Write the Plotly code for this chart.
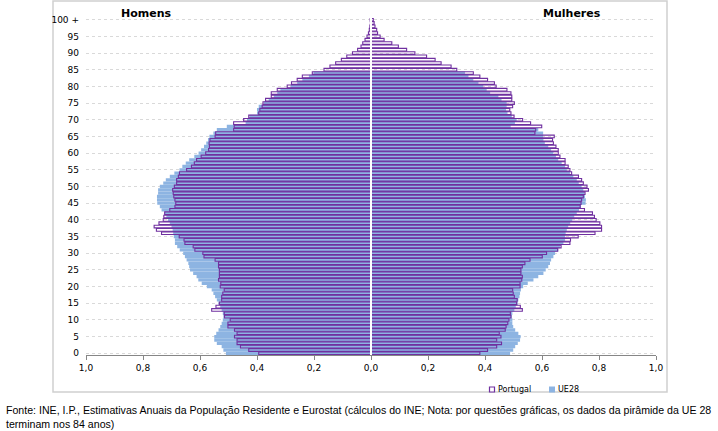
import plotly.graph_objects as go

ages = list(range(0, 101))
age_tick_vals = list(range(0, 101, 5))
age_tick_text = [str(a) for a in range(0, 100, 5)] + ["100 +"]
x_tick_vals = [-1.0, -0.8, -0.6, -0.4, -0.2, 0.0, 0.2, 0.4, 0.6, 0.8, 1.0]
x_tick_text = ["1,0", "0,8", "0,6", "0,4", "0,2", "0,0", "0,2", "0,4", "0,6", "0,8", "1,0"]

# Portugal, Homens (% of total population), ages 0..100+
pt_homens = [0.394, 0.429, 0.458, 0.470, 0.470, 0.479, 0.470, 0.479, 0.502, 0.502,
             0.494, 0.514, 0.515, 0.559, 0.544, 0.532, 0.524, 0.524, 0.520, 0.515,
             0.529, 0.527, 0.535, 0.532, 0.532, 0.532, 0.535, 0.535, 0.547, 0.586,
             0.590, 0.618, 0.624, 0.653, 0.656, 0.673, 0.735, 0.753, 0.761, 0.744,
             0.729, 0.727, 0.724, 0.706, 0.688, 0.685, 0.688, 0.692, 0.694, 0.696,
             0.690, 0.682, 0.682, 0.676, 0.672, 0.647, 0.630, 0.620, 0.612, 0.596,
             0.580, 0.570, 0.567, 0.568, 0.565, 0.547, 0.545, 0.482, 0.480, 0.482,
             0.447, 0.429, 0.394, 0.390, 0.382, 0.379, 0.370, 0.350, 0.350, 0.329,
             0.294, 0.279, 0.259, 0.241, 0.206, 0.165, 0.144, 0.124, 0.104, 0.085,
             0.065, 0.047, 0.035, 0.029, 0.021, 0.014, 0.009, 0.006, 0.004, 0.002,
             0.003]
# Portugal, Mulheres
pt_mulheres = [0.382, 0.409, 0.441, 0.458, 0.441, 0.456, 0.450, 0.471, 0.474, 0.480,
               0.484, 0.491, 0.489, 0.531, 0.524, 0.511, 0.513, 0.503, 0.499, 0.497,
               0.523, 0.523, 0.529, 0.531, 0.526, 0.526, 0.531, 0.540, 0.558, 0.601,
               0.616, 0.655, 0.667, 0.698, 0.700, 0.727, 0.786, 0.809, 0.809, 0.803,
               0.790, 0.784, 0.777, 0.749, 0.734, 0.737, 0.739, 0.745, 0.751, 0.763,
               0.758, 0.745, 0.739, 0.728, 0.704, 0.698, 0.692, 0.681, 0.681, 0.663,
               0.657, 0.657, 0.649, 0.640, 0.637, 0.643, 0.575, 0.578, 0.599, 0.560,
               0.532, 0.502, 0.491, 0.487, 0.497, 0.503, 0.494, 0.494, 0.491, 0.477,
               0.439, 0.433, 0.409, 0.382, 0.359, 0.301, 0.281, 0.246, 0.225, 0.195,
               0.154, 0.125, 0.096, 0.073, 0.046, 0.032, 0.023, 0.020, 0.014, 0.011,
               0.008]
# UE28, Homens (ages 0..84)
ue_homens = [0.509, 0.518, 0.524, 0.541, 0.550, 0.550, 0.543, 0.535, 0.529, 0.524,
             0.520, 0.518, 0.520, 0.524, 0.529, 0.535, 0.541, 0.547, 0.553, 0.559,
             0.576, 0.594, 0.606, 0.612, 0.624, 0.635, 0.638, 0.641, 0.647, 0.653,
             0.659, 0.671, 0.680, 0.688, 0.688, 0.692, 0.694, 0.696, 0.700, 0.706,
             0.712, 0.718, 0.724, 0.735, 0.741, 0.750, 0.751, 0.751, 0.747, 0.747,
             0.741, 0.729, 0.720, 0.706, 0.690, 0.672, 0.662, 0.650, 0.638, 0.620,
             0.605, 0.596, 0.586, 0.578, 0.572, 0.567, 0.553, 0.541, 0.506, 0.440,
             0.435, 0.426, 0.400, 0.400, 0.394, 0.376, 0.359, 0.341, 0.329, 0.318,
             0.282, 0.259, 0.241, 0.218, 0.202]
# UE28, Mulheres (ages 0..84)
ue_mulheres = [0.488, 0.499, 0.506, 0.515, 0.523, 0.525, 0.517, 0.506, 0.499, 0.496,
               0.496, 0.494, 0.496, 0.503, 0.508, 0.515, 0.517, 0.521, 0.523, 0.526,
               0.534, 0.550, 0.570, 0.587, 0.605, 0.613, 0.622, 0.628, 0.632, 0.640,
               0.646, 0.657, 0.663, 0.675, 0.681, 0.681, 0.683, 0.687, 0.692, 0.699,
               0.706, 0.713, 0.722, 0.730, 0.737, 0.753, 0.754, 0.751, 0.749, 0.745,
               0.739, 0.729, 0.722, 0.710, 0.698, 0.687, 0.681, 0.669, 0.657, 0.649,
               0.640, 0.632, 0.622, 0.610, 0.605, 0.604, 0.604, 0.587, 0.490, 0.505,
               0.511, 0.494, 0.479, 0.474, 0.476, 0.476, 0.458, 0.447, 0.418, 0.406,
               0.394, 0.377, 0.359, 0.342, 0.330]

PURPLE = "#7030A0"
BLUE = "#8DB4E2"
FONT = "DejaVu Sans"

fig = go.Figure()
ue_ages = ages[:len(ue_homens)]
fig.add_trace(go.Bar(y=ue_ages, x=[-v for v in ue_homens], orientation="h", width=1.0,
                     marker=dict(color=BLUE, line=dict(width=0)), name="UE28",
                     showlegend=False))
fig.add_trace(go.Bar(y=ue_ages, x=ue_mulheres, orientation="h", width=1.0,
                     marker=dict(color=BLUE, line=dict(width=0)), name="UE28",
                     showlegend=False))
fig.add_trace(go.Bar(y=ages, x=[-v for v in pt_homens], orientation="h", width=0.8,
                     marker=dict(color="rgba(0,0,0,0)", line=dict(color=PURPLE, width=1.1)),
                     name="Portugal", showlegend=False))
fig.add_trace(go.Bar(y=ages, x=pt_mulheres, orientation="h", width=0.8,
                     marker=dict(color="rgba(0,0,0,0)", line=dict(color=PURPLE, width=1.1)),
                     name="Portugal", showlegend=False))

L, R, T, B = 86, 62, 18, 76
W, H = 718, 431
pw, ph = W - L - R, H - T - B


def px(xp):
    return (xp - L) / pw


def py(yp):
    return (H - B - yp) / ph


fig.update_layout(
    width=W, height=H,
    margin=dict(l=L, r=R, t=T, b=B),
    paper_bgcolor="white", plot_bgcolor="white",
    barmode="overlay",
    font=dict(family=FONT, size=9, color="#000000"),
    showlegend=False,
    xaxis=dict(range=[-1, 1], tickvals=x_tick_vals, ticktext=x_tick_text,
               showgrid=False, zeroline=False, showline=True, linecolor="#868686",
               linewidth=1, ticks="outside", ticklen=4, tickcolor="#868686",
               tickfont=dict(size=9, family=FONT)),
    yaxis=dict(range=[-0.5, 100.5], tickvals=age_tick_vals, ticktext=age_tick_text,
               showgrid=True, gridcolor="#D9D9D9", griddash="dot", gridwidth=1,
               zeroline=False, showline=False, ticks="", ticklabelstandoff=6,
               tickfont=dict(size=9, family=FONT)),
)

# white centre line at 0
fig.add_shape(type="line", xref="x", yref="y", x0=0, x1=0, y0=-0.5, y1=100.5,
              line=dict(color="white", width=2), layer="above")
# chart frame
fig.add_shape(type="rect", xref="paper", yref="paper", x0=px(53), x1=px(667),
              y0=py(392), y1=py(1), line=dict(color="#D0D0D0", width=1.5), layer="below")

# legend (manual, compact like the original)
fig.add_shape(type="rect", xref="paper", yref="paper", x0=px(489.5), x1=px(494.5),
              y0=py(392), y1=py(387), line=dict(color=PURPLE, width=1.2),
              fillcolor="white", layer="above")
fig.add_annotation(text="Portugal", xref="paper", yref="paper", x=px(496), y=py(389.5),
                   xanchor="left", yanchor="middle", showarrow=False,
                   font=dict(size=8, family=FONT, color="#000000"))
fig.add_shape(type="rect", xref="paper", yref="paper", x0=px(549), x1=px(555),
              y0=py(392.5), y1=py(386.5), line=dict(width=0),
              fillcolor=BLUE, layer="above")
fig.add_annotation(text="UE28", xref="paper", yref="paper", x=px(556), y=py(389.5),
                   xanchor="left", yanchor="middle", showarrow=False,
                   font=dict(size=8, family=FONT, color="#000000"))

fig.add_annotation(text="<b>Homens</b>", xref="paper", yref="paper", x=px(146), y=py(13),
                   xanchor="center", yanchor="middle",
                   showarrow=False, font=dict(size=11, family=FONT, color="#000000"))
fig.add_annotation(text="<b>Mulheres</b>", xref="paper", yref="paper", x=px(572), y=py(13),
                   xanchor="center", yanchor="middle",
                   showarrow=False, font=dict(size=11, family=FONT, color="#000000"))
fig.add_annotation(text="Fonte: INE, I.P., Estimativas Anuais da População Residente e Eurostat (cálculos do INE; Nota: por questões gráficas, os dados da pirâmide da UE 28",
                   xref="paper", yref="paper", x=px(4), y=py(410), xanchor="left", yanchor="middle",
                   showarrow=False, font=dict(size=10.6, family="Liberation Sans", color="#000000"))
fig.add_annotation(text="terminam nos 84 anos)",
                   xref="paper", yref="paper", x=px(4), y=py(424), xanchor="left", yanchor="middle",
                   showarrow=False, font=dict(size=10.6, family="Liberation Sans", color="#000000"))

fig.write_html("out.html", config={"displayModeBar": False},
               post_script="document.body.style.margin='0px';document.body.style.padding='0px';document.body.style.overflow='hidden';")
